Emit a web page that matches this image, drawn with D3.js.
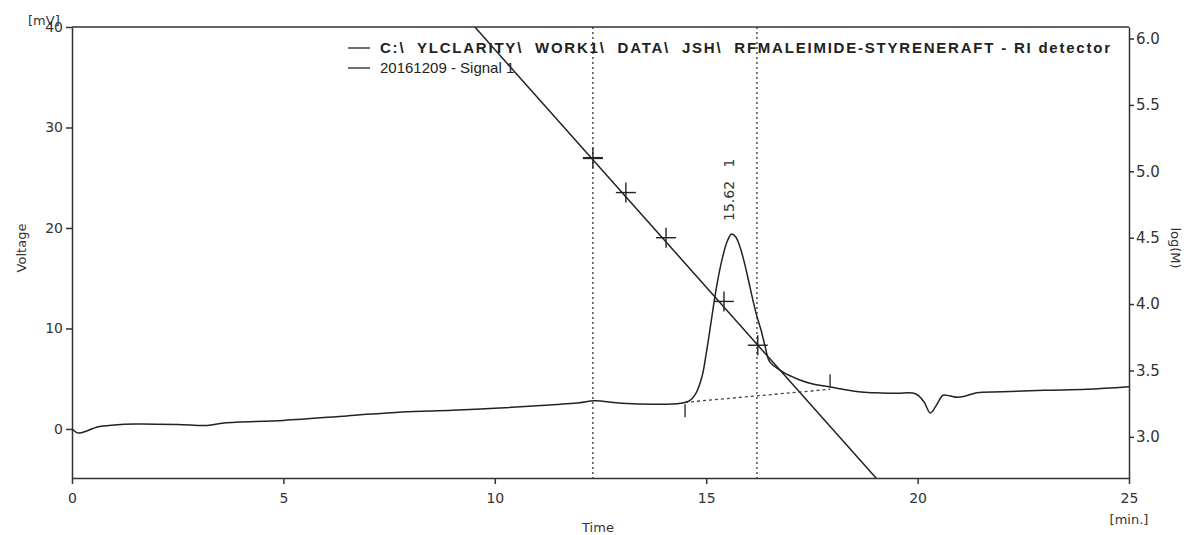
<!DOCTYPE html>
<html>
<head>
<script src="https://d3js.org/d3.v7.min.js"></script>
<style>
  body { margin: 0; background: #fff; }
  .axis path, .axis line { stroke: #333; stroke-width: 1.5; }
  .axis text { font-family: 'DejaVu Sans', sans-serif; font-size: 14px; fill: #333; }
  .lbl { font-family: 'DejaVu Sans', sans-serif; font-size: 13px; fill: #333; }
  .leg { font-family: 'Liberation Sans', Arial, sans-serif; font-size: 15px; fill: #222; white-space: pre; }
</style>
</head>
<body>
<div id="chart"></div>
<script>
// signal trace (time in min, voltage in mV)
var sigTime = [0, 0.15, 0.35, 0.6, 1, 1.5, 2.5, 3.2, 3.6, 5, 6.5, 7.8, 9, 10, 11, 12, 12.35, 13, 13.8, 14.4,
  14.6, 14.75, 14.9, 15.0, 15.1, 15.2, 15.3, 15.4, 15.5, 15.6, 15.7, 15.8, 15.9, 16.0, 16.1, 16.2, 16.3, 16.4,
  16.5, 16.8, 17.2, 17.5, 17.9, 18.6,
  19, 19.5, 19.95, 20.15, 20.3, 20.45, 20.6, 20.75, 20.95, 21.15, 21.4, 22, 23, 24, 25];
var sigVolt = [0, -0.4, -0.2, 0.2, 0.4, 0.5, 0.45, 0.35, 0.6, 0.85, 1.3, 1.7, 1.85, 2.05, 2.3, 2.6, 2.8, 2.55, 2.45, 2.55,
  2.8, 3.5, 5.2, 7.5, 10.2, 13.0, 15.4, 17.3, 18.7, 19.4, 19.1, 18.1, 16.6, 14.8, 12.9, 11.2, 9.8, 8.1,
  6.7, 5.7, 4.9, 4.5, 4.2, 3.7,
  3.6, 3.55, 3.5, 2.7, 1.6, 2.4, 3.35, 3.3, 3.15, 3.3, 3.6, 3.7, 3.85, 3.95, 4.2];

// calibration standards (time, log M) and linear fit logM = a + b*t
var calTime = [12.32, 13.10, 14.05, 15.42, 16.22];
var calLogM = [5.10, 4.84, 4.50, 4.02, 3.69];
var calFit = [9.498, -0.358];

// integration limits / markers
var markerTimes = [12.32, 16.2];
var baseTime = [14.5, 17.93];
var baseVolt = [2.65, 3.95];
var peakTime = 15.62;
var peakLabel = "15.62   1";

var xTicks = [0, 5, 10, 15, 20, 25];
var yTicks = [0, 10, 20, 30, 40];
var y2Ticks = [3.0, 3.5, 4.0, 4.5, 5.0, 5.5, 6.0];

var legendLines = ["C:\\  YLCLARITY\\  WORK1\\  DATA\\  JSH\\  RFMALEIMIDE-STYRENERAFT - RI detector", "20161209 - Signal 1"];

var W = 1200, H = 535;
var pLeft = 72, pRight = 1129, pTop = 27, pBottom = 478;

var svg = d3.select("#chart").append("svg").attr("width", W).attr("height", H);

var x = d3.scaleLinear().domain([0, 25]).range([pLeft, pRight]);
var y = d3.scaleLinear().domain([-4.88, 40]).range([pBottom, pTop]);
var y2 = d3.scaleLinear().domain([2.69, 6.087]).range([pBottom, pTop]);

svg.append("defs").append("clipPath").attr("id", "clip")
  .append("rect").attr("x", pLeft).attr("y", pTop).attr("width", pRight - pLeft).attr("height", pBottom - pTop);

// frame top
svg.append("line").attr("x1", pLeft).attr("x2", pRight).attr("y1", pTop).attr("y2", pTop)
  .attr("stroke", "#333").attr("stroke-width", 1.5);

svg.append("g").attr("class", "axis").attr("transform", "translate(0," + pBottom + ")")
  .call(d3.axisBottom(x).tickValues(xTicks).tickSizeInner(6).tickSizeOuter(0).tickPadding(9).tickFormat(d3.format("d")));
svg.append("g").attr("class", "axis").attr("transform", "translate(" + pLeft + ",0)")
  .call(d3.axisLeft(y).tickValues(yTicks).tickSizeInner(6).tickSizeOuter(0).tickPadding(3).tickFormat(d3.format("d")));
svg.append("g").attr("class", "axis").attr("transform", "translate(" + pRight + ",0)")
  .call(d3.axisRight(y2).tickValues(y2Ticks).tickSizeInner(5).tickSizeOuter(0).tickPadding(2).tickFormat(d3.format(".1f")))
  .selectAll("text").style("font-size", "15px");

var plot = svg.append("g").attr("clip-path", "url(#clip)");

// dotted markers
plot.selectAll(".marker").data(markerTimes).enter().append("line")
  .attr("x1", function(d) { return x(d); }).attr("x2", function(d) { return x(d); })
  .attr("y1", pTop).attr("y2", pBottom)
  .attr("stroke", "#222").attr("stroke-width", 1.2).attr("stroke-dasharray", "2,3");

// calibration line
plot.append("line")
  .attr("x1", x(0)).attr("y1", y2(calFit[0]))
  .attr("x2", x(25)).attr("y2", y2(calFit[0] + calFit[1] * 25))
  .attr("stroke", "#222").attr("stroke-width", 1.5);

// calibration crosses
var cs = 10;
calTime.forEach(function(t, i) {
  var cx = x(t), cy = y2(calLogM[i]);
  plot.append("line").attr("x1", cx - cs).attr("x2", cx + cs).attr("y1", cy).attr("y2", cy)
    .attr("stroke", "#222").attr("stroke-width", i === 0 ? 2.2 : 1.4);
  plot.append("line").attr("x1", cx).attr("x2", cx).attr("y1", cy - cs).attr("y2", cy + cs)
    .attr("stroke", "#222").attr("stroke-width", 1.4);
});

// baseline
plot.append("line")
  .attr("x1", x(baseTime[0])).attr("y1", y(baseVolt[0]))
  .attr("x2", x(baseTime[1])).attr("y2", y(baseVolt[1]))
  .attr("stroke", "#444").attr("stroke-width", 1.3).attr("stroke-dasharray", "3,3");
// integration ticks
plot.append("line").attr("x1", x(baseTime[0])).attr("x2", x(baseTime[0]))
  .attr("y1", y(baseVolt[0]) + 2).attr("y2", y(baseVolt[0]) + 15).attr("stroke", "#222").attr("stroke-width", 1.3);
plot.append("line").attr("x1", x(baseTime[1])).attr("x2", x(baseTime[1]))
  .attr("y1", y(baseVolt[1]) - 2).attr("y2", y(baseVolt[1]) - 15).attr("stroke", "#222").attr("stroke-width", 1.3);

// signal
var sig = sigTime.map(function(t, i) { return [t, sigVolt[i]]; });
plot.append("path").datum(sig)
  .attr("fill", "none").attr("stroke", "#222").attr("stroke-width", 1.5)
  .attr("d", d3.line().x(function(d) { return x(d[0]); }).y(function(d) { return y(d[1]); })
    .curve(d3.curveCatmullRom.alpha(0.5)));

// peak label
svg.append("text").attr("class", "lbl")
  .attr("transform", "translate(" + (x(peakTime) + 2) + ",221) rotate(-90)")
  .style("white-space", "pre").style("font-size", "14px")
  .text(peakLabel);

// legend
legendLines.forEach(function(s, i) {
  var ly = 48 + i * 20;
  svg.append("line").attr("x1", 348).attr("x2", 370).attr("y1", ly).attr("y2", ly)
    .attr("stroke", "#222").attr("stroke-width", 1.3);
  var t = svg.append("text").attr("class", "leg").attr("x", 380).attr("y", ly + 5).text(s);
  if (i === 0) t.attr("font-weight", "bold").attr("textLength", 730).attr("lengthAdjust", "spacing");
});

// axis titles
svg.append("text").attr("class", "lbl").attr("x", 28).attr("y", 25).text("[mV]");
svg.append("text").attr("class", "lbl").attr("text-anchor", "middle")
  .attr("transform", "translate(26,248) rotate(-90)").text("Voltage");
svg.append("text").attr("class", "lbl").attr("text-anchor", "middle")
  .attr("x", 598).attr("y", 532).text("Time");
svg.append("text").attr("class", "lbl").attr("text-anchor", "middle")
  .attr("x", 1129).attr("y", 524).text("[min.]");
svg.append("text").attr("class", "lbl").attr("text-anchor", "middle")
  .attr("transform", "translate(1171,248) rotate(90)").text("log(M)");
</script>
</body>
</html>
